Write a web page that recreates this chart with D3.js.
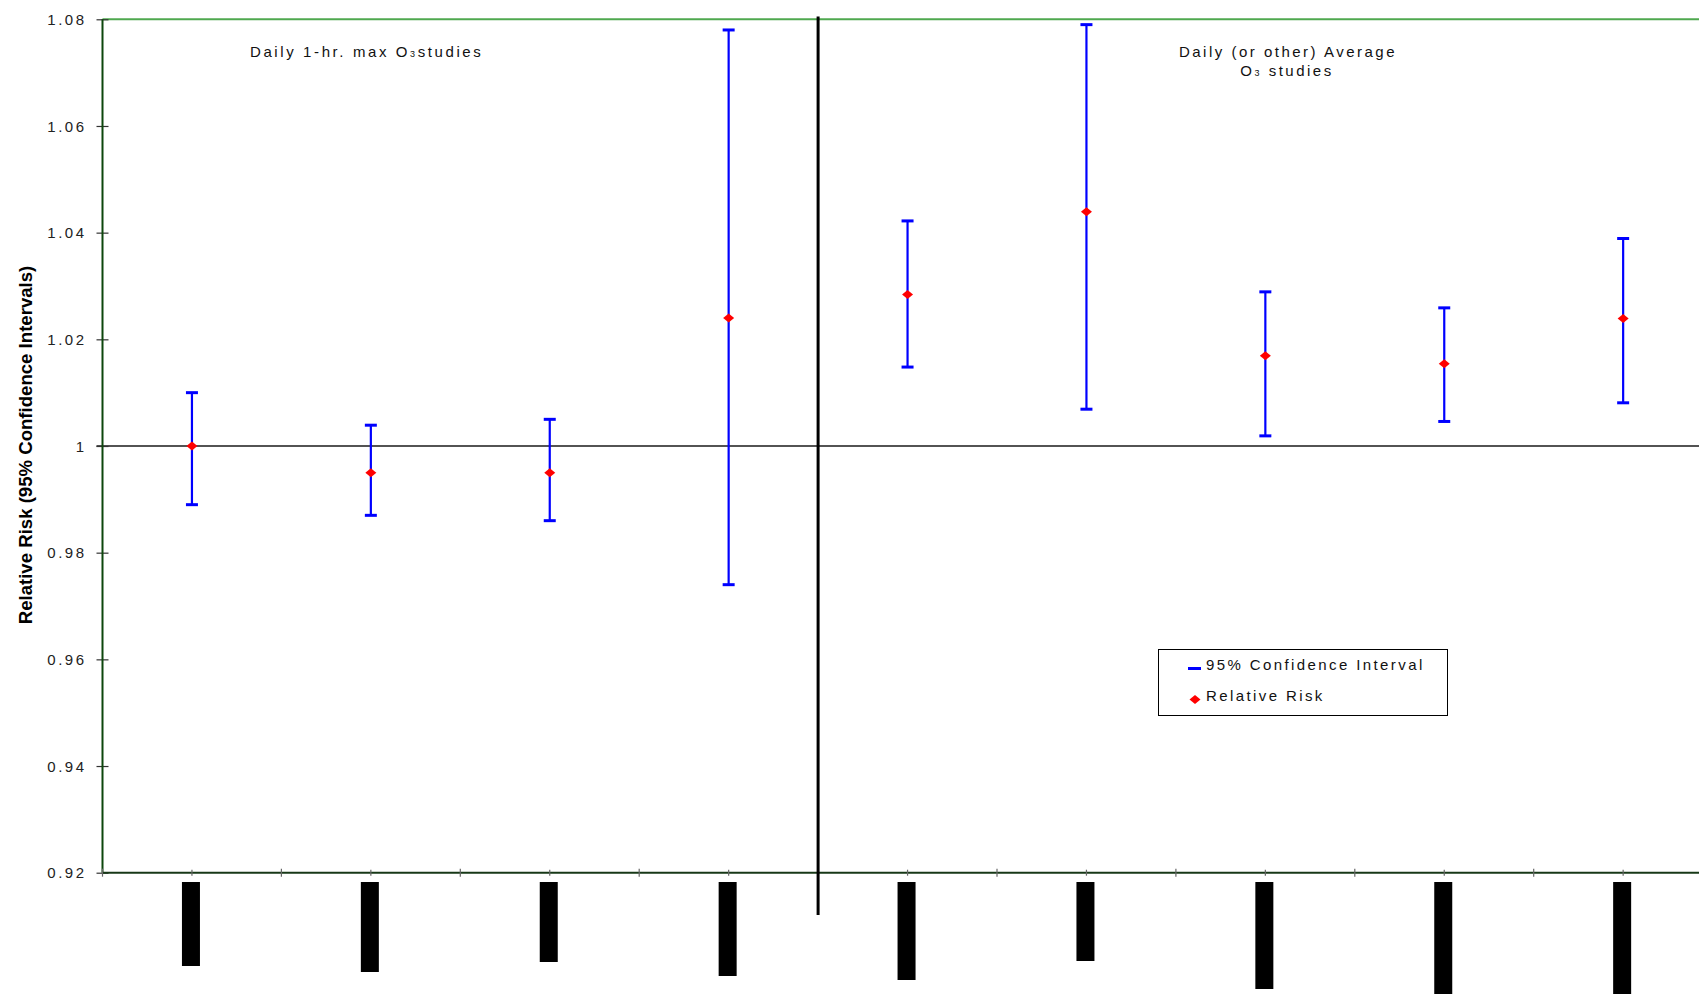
<!DOCTYPE html>
<html>
<head>
<meta charset="utf-8">
<script src="https://cdn.jsdelivr.net/npm/d3@7"></script>
<style>
  html, body { margin: 0; padding: 0; background: #fff; overflow: hidden; }
  svg { display: block; }
  text { font-family: "Liberation Sans", Arial, sans-serif; }
</style>
</head>
<body>
<svg id="chart" width="1699" height="994"></svg>
<script>
// ---- data ----
const categories = ["S1", "S2", "S3", "S4", "S5", "S6", "S7", "S8", "S9"];
const relativeRisk = [1.000, 0.995, 0.995, 1.024, 1.0284, 1.0439, 1.0169, 1.0154, 1.0239];
const ciLower      = [0.989, 0.987, 0.986, 0.974, 1.0148, 1.0069, 1.0019, 1.0046, 1.0081];
const ciUpper      = [1.010, 1.0039, 1.005, 1.078, 1.0422, 1.079, 1.0289, 1.0259, 1.0389];
const yTickValues  = [0.92, 0.94, 0.96, 0.98, 1.00, 1.02, 1.04, 1.06, 1.08];
const yTickLabels  = ["0.92", "0.94", "0.96", "0.98", "1", "1.02", "1.04", "1.06", "1.08"];
// obscured category labels (rendered as solid blocks in the source), lengths in px
const labelBlockLen = [84, 90, 80, 94, 98, 79, 107, 125, 125];
const groupSplitAfter = 4; // first 4 = 1-hr max studies, rest = daily average studies

// ---- layout ----
const svg = d3.select("#chart");
const mLeft = 102.5, mTop = 19.3, mBottom = 872.7;
const band = 178.9;
const x = d3.scaleBand().domain(categories).range([mLeft, mLeft + band * categories.length]).padding(0);
const y = d3.scaleLinear().domain([0.92, 1.08]).range([mBottom, mTop]);
const W = 1699;
const cx = d => x(d) + x.bandwidth() / 2;

// top green line
svg.append("line").attr("x1", mLeft).attr("x2", W).attr("y1", y(1.08)).attr("y2", y(1.08))
  .attr("stroke", "#4fa84f").attr("stroke-width", 2);

// reference line at 1.00
svg.append("line").attr("x1", mLeft - 6).attr("x2", W).attr("y1", y(1.0)).attr("y2", y(1.0))
  .attr("stroke", "#1a1a1a").attr("stroke-width", 1.5);

// y axis
const yAxis = d3.axisLeft(y).tickValues(yTickValues)
  .tickFormat((d, i) => yTickLabels[i]).tickSizeOuter(0).tickSizeInner(6);
const gy = svg.append("g").attr("transform", `translate(${mLeft},0)`).call(yAxis);
gy.select(".domain").remove();
gy.selectAll(".tick line").attr("x1", -6).attr("x2", 6).attr("stroke", "#333").attr("stroke-width", 1.2);
gy.selectAll(".tick text")
  .attr("x", -16).attr("dy", "0.35em")
  .style("font-size", "15px").style("letter-spacing", "2.5px")
  .attr("fill", "#222");
svg.append("line").attr("x1", mLeft).attr("x2", mLeft).attr("y1", mTop).attr("y2", mBottom)
  .attr("stroke", "#0d470d").attr("stroke-width", 2);

// x axis
svg.append("line").attr("x1", mLeft).attr("x2", W).attr("y1", mBottom).attr("y2", mBottom)
  .attr("stroke", "#173817").attr("stroke-width", 2);
const bounds = d3.range(categories.length + 1).map(i => x.range()[0] + i * x.step());
svg.append("g").selectAll("line").data(bounds).join("line")
  .attr("x1", d => d).attr("x2", d => d).attr("y1", mBottom - 4).attr("y2", mBottom + 4)
  .attr("stroke", "#666").attr("stroke-width", 1.2);
svg.append("g").selectAll("line").data(categories).join("line")
  .attr("x1", d => cx(d)).attr("x2", d => cx(d)).attr("y1", mBottom - 3).attr("y2", mBottom + 3)
  .attr("stroke", "#666").attr("stroke-width", 1.2);

// obscured category label blocks
svg.append("g").selectAll("rect").data(categories).join("rect")
  .attr("x", d => cx(d) - 10).attr("y", mBottom + 9.3)
  .attr("width", 18).attr("height", (d, i) => labelBlockLen[i])
  .attr("fill", "#000");

// group divider
const divX = x(categories[groupSplitAfter]);
svg.append("line").attr("x1", divX).attr("x2", divX).attr("y1", 16.5).attr("y2", 915)
  .attr("stroke", "#000").attr("stroke-width", 3);

// error bars
const eb = svg.append("g");
eb.selectAll("line.v").data(categories).join("line").attr("class", "v")
  .attr("x1", d => cx(d)).attr("x2", d => cx(d))
  .attr("y1", (d, i) => y(ciUpper[i])).attr("y2", (d, i) => y(ciLower[i]))
  .attr("stroke", "#0000ff").attr("stroke-width", 2.2);
[ciUpper, ciLower].forEach(arr => {
  eb.append("g").selectAll("line").data(categories).join("line")
    .attr("x1", d => cx(d) - 6).attr("x2", d => cx(d) + 6)
    .attr("y1", (d, i) => y(arr[i])).attr("y2", (d, i) => y(arr[i]))
    .attr("stroke", "#0000ff").attr("stroke-width", 3);
});

// relative risk diamonds
const diamond = "M0,-4.5L5.5,0L0,4.5L-5.5,0Z";
svg.append("g").selectAll("path").data(categories).join("path")
  .attr("d", diamond)
  .attr("transform", (d, i) => `translate(${cx(d)},${y(relativeRisk[i])})`)
  .attr("fill", "#ff0000");

// group titles
const t1 = svg.append("text").attr("x", 250).attr("y", 57.3)
  .style("font-size", "15px").style("letter-spacing", "2.6px").attr("fill", "#111");
t1.append("tspan").text("Daily 1-hr. max O");
t1.append("tspan").style("font-size", "9px").text("3");
t1.append("tspan").text("studies");

svg.append("text").attr("x", 1288).attr("y", 57.3).attr("text-anchor", "middle")
  .style("font-size", "15px").style("letter-spacing", "2.5px").attr("fill", "#111")
  .text("Daily (or other) Average");
const t3 = svg.append("text").attr("x", 1287).attr("y", 75.7).attr("text-anchor", "middle")
  .style("font-size", "15px").style("letter-spacing", "2.5px").attr("fill", "#111");
t3.append("tspan").text("O");
t3.append("tspan").style("font-size", "9px").text("3");
t3.append("tspan").text(" studies");

// y axis title
svg.append("text")
  .attr("transform", "translate(31.5,445) rotate(-90)")
  .attr("text-anchor", "middle")
  .style("font-size", "18.6px").style("font-weight", "bold").attr("fill", "#000")
  .text("Relative Risk (95% Confidence Intervals)");

// legend
const lg = svg.append("g").attr("transform", "translate(1158.5,649.5)");
lg.append("rect").attr("x", 0).attr("y", 0).attr("width", 289).attr("height", 66)
  .attr("fill", "#fff").attr("stroke", "#000").attr("stroke-width", 1);
lg.append("line").attr("x1", 29.5).attr("x2", 42.5).attr("y1", 19).attr("y2", 19)
  .attr("stroke", "#0000ff").attr("stroke-width", 3);
lg.append("text").attr("x", 47.5).attr("y", 20.5)
  .style("font-size", "15px").style("letter-spacing", "2.4px").attr("fill", "#111")
  .text("95% Confidence Interval");
lg.append("path").attr("d", diamond).attr("transform", "translate(36.5,50)").attr("fill", "#ff0000");
lg.append("text").attr("x", 47.5).attr("y", 51.5)
  .style("font-size", "15px").style("letter-spacing", "2.4px").attr("fill", "#111")
  .text("Relative Risk");
</script>
</body>
</html>
